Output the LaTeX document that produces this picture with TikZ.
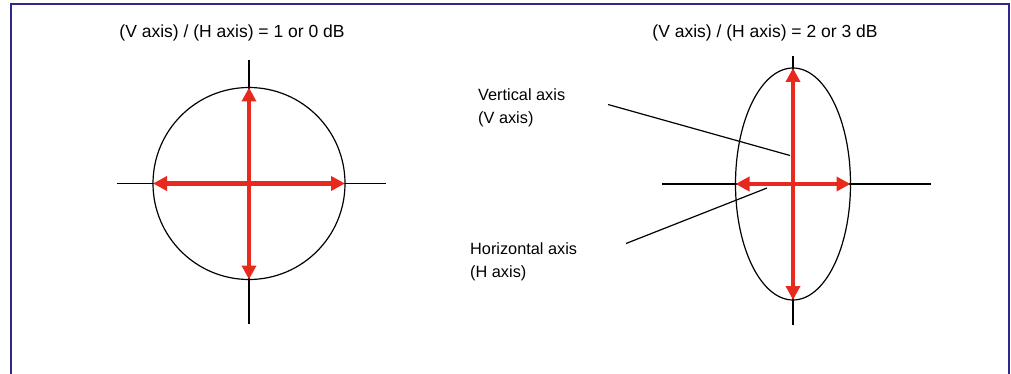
\documentclass[tikz,border=0pt]{standalone}
\usepackage{fontspec}
\setmainfont{Liberation Sans}
\usetikzlibrary{arrows.meta}
\definecolor{frameblue}{RGB}{46,40,140}
\definecolor{axisred}{RGB}{232,41,30}
\begin{document}
\begin{tikzpicture}[x=1pt,y=-1pt,
  label/.style={font=\fontsize{16.3}{23.5}\selectfont, inner sep=0pt},
  titlelabel/.style={font=\fontsize{17.5}{21}\selectfont, inner sep=0pt},
  crossline/.style={line width=1.6pt, black},
  outline/.style={line width=1.2pt, black},
  redaxis/.style={line width=4.5pt, axisred, {Triangle[length=14pt,width=14pt]}-{Triangle[length=14pt,width=14pt]}},
  leader/.style={line width=1.2pt, black}]
\useasboundingbox (0,0) rectangle (1011,374);
% frame
\draw[frameblue, line width=2pt] (11,380) -- (11,4) -- (1009,4) -- (1009,380);
% left figure
\coordinate (c1) at (249,183.5);
\node[titlelabel] (t1) at (232,33) {(V axis) / (H axis) = 1 or 0 dB};
\draw[crossline] (117,183.5) -- (386,183.5);
\draw[crossline] (249,60) -- (249,324);
\draw[outline] (c1) circle (96);
\coordinate (c1t) at (249,87.5);
\coordinate (c1b) at (249,279.5);
\coordinate (c1l) at (153,183.5);
\coordinate (c1r) at (345,183.5);
\draw[redaxis] (c1b) -- (c1t);
\draw[redaxis] (c1l) -- (c1r);
% right figure
\coordinate (c2) at (793,184);
\node[titlelabel] (t2) at (765,33) {(V axis) / (H axis) = 2 or 3 dB};
\draw[crossline] (662,184) -- (931,184);
\draw[crossline] (793,56) -- (793,325);
\draw[outline] (c2) ellipse [x radius=57.5, y radius=116];
\coordinate (c2t) at (793,68);
\coordinate (c2b) at (793,300);
\coordinate (c2l) at (735.5,184);
\coordinate (c2r) at (850.5,184);
\draw[redaxis] (c2b) -- (c2t);
\draw[redaxis] (c2l) -- (c2r);
% labels and leaders
\node[label, anchor=west, align=left] (vlab) at (478,108) {Vertical axis\\(V axis)};
\node[label, anchor=west, align=left] (hlab) at (470,262) {Horizontal axis\\(H axis)};
\coordinate (vfrom) at (608,104.5);
\coordinate (vto) at (790,155.5);
\coordinate (hfrom) at (626,243.5);
\coordinate (hto) at (767,188);
\draw[leader] (vfrom) -- (vto);
\draw[leader] (hfrom) -- (hto);
\end{tikzpicture}
\end{document}
